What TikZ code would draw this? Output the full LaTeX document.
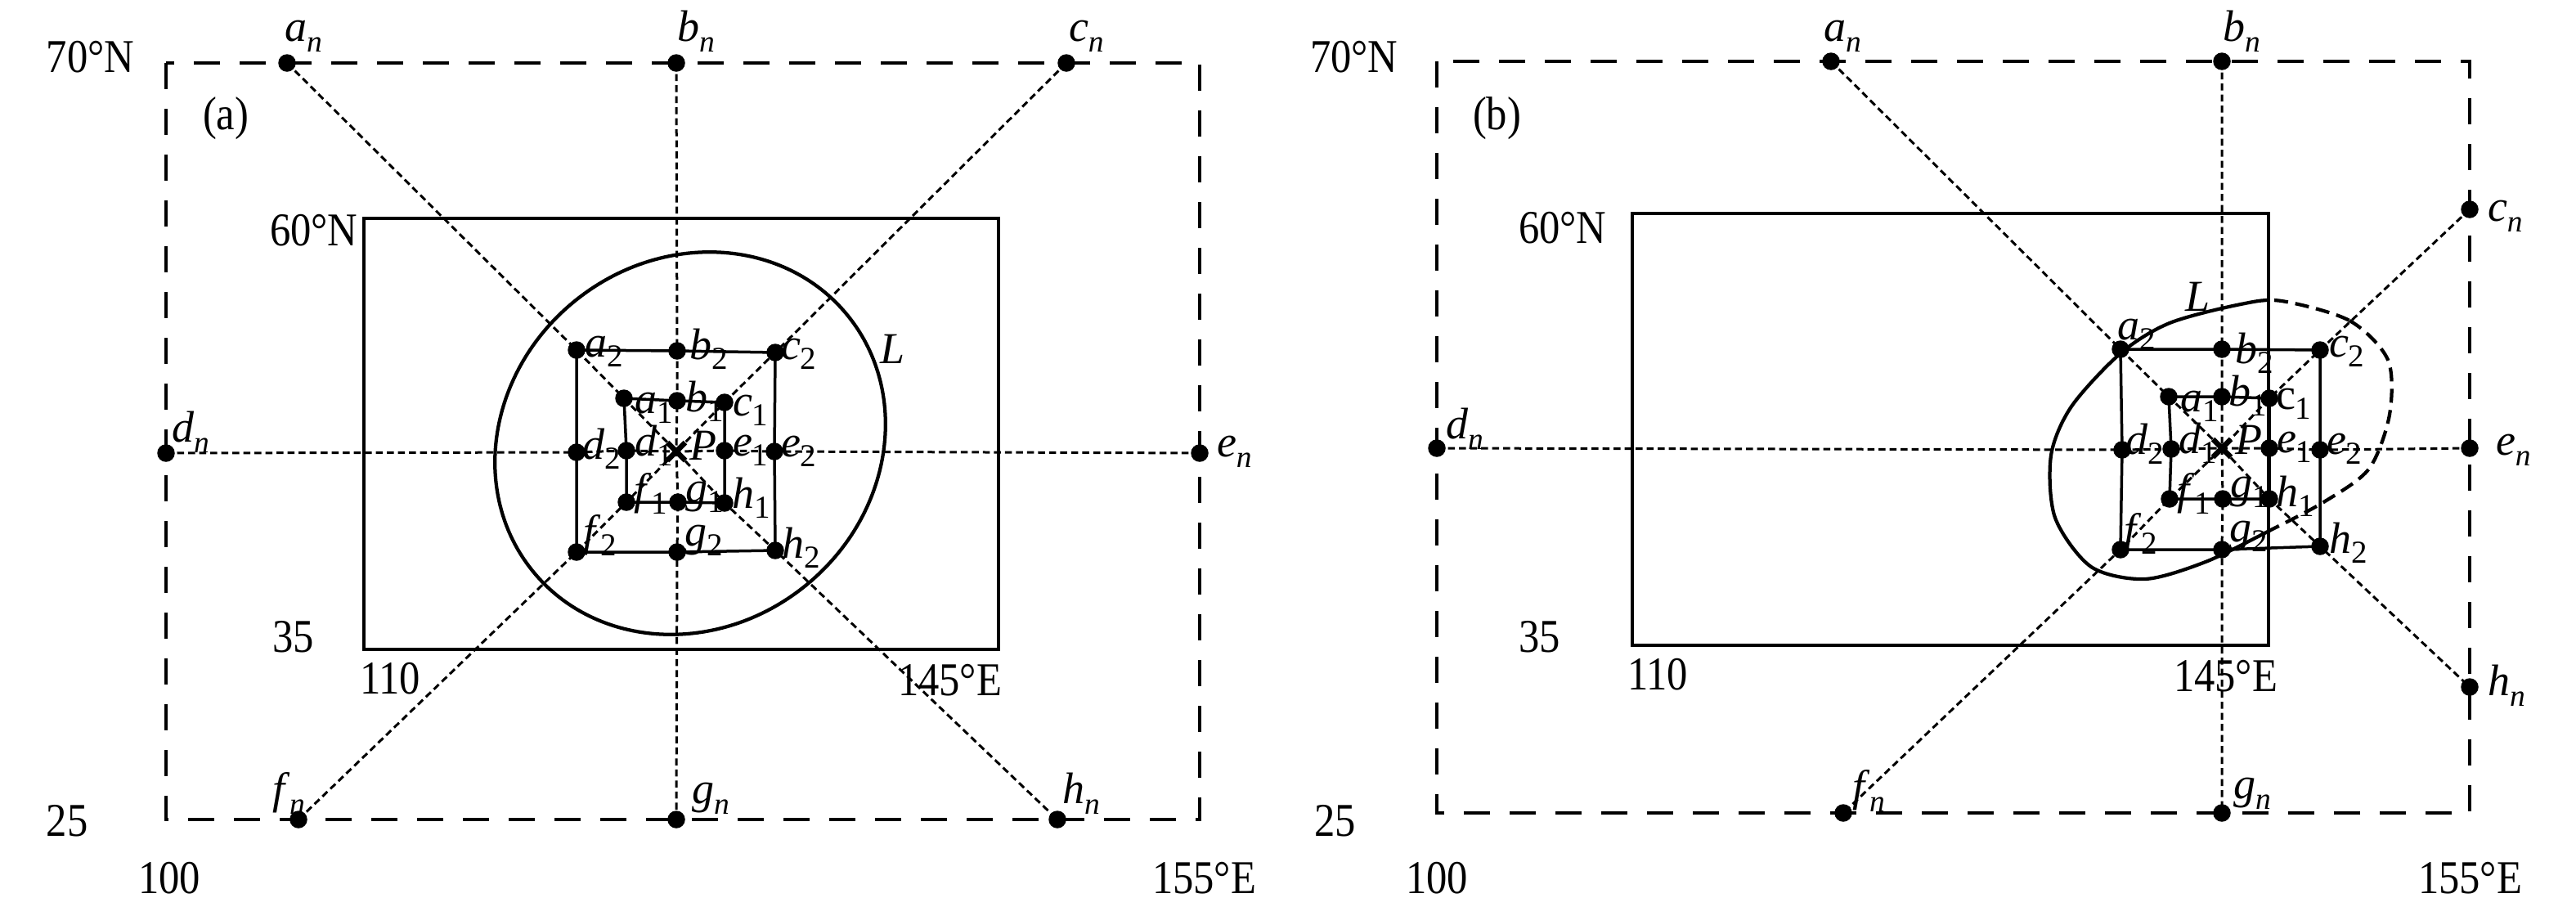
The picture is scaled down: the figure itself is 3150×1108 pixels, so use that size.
\documentclass[tikz,border=0pt]{standalone}
\usepackage{fontspec}
\setmainfont{Liberation Serif}
\newfontfamily\numfont{Liberation Serif}[FakeStretch=0.88]
\usetikzlibrary{calc,backgrounds}
\newcommand{\lb}[2]{\textit{#1}\raisebox{-2.5pt}{\fontsize{7.8}{8}\selectfont #2}}
\newcommand{\lbn}[1]{\textit{#1}\raisebox{-2.6pt}{\fontsize{7.5}{8}\selectfont\textit{n}}}
\tikzset{
 outerdash/.style={line width=0.85pt, dash pattern=on 6.4pt off 4.8pt},
 guide/.style={line width=0.6pt, dash pattern=on 1.7pt off 1pt},
 boxline/.style={line width=0.75pt},
 sqline/.style={line width=0.7pt},
 curveline/.style={line width=0.85pt},
 curvedash/.style={line width=0.85pt, dash pattern=on 3.4pt off 1.8pt},
 dot/.style={circle, fill=black, inner sep=0pt, minimum size=4.3pt},
 lbl/.style={anchor=base west, inner sep=0pt, font=\fontsize{10.8}{12}\selectfont},
 big/.style={anchor=base west, inner sep=0pt, font=\fontsize{11.5}{13}\selectfont\numfont},
 crossline/.style={line width=1.3pt},
}
\newcommand{\dotlab}[4]{%
 \node[dot] (#1) at (#2) {};
 \node[lbl] (#1t) at ($(#1.center)+(#3)$) {#4};}
\begin{document}
\begin{tikzpicture}[x=0.2pt,y=-0.2pt]
\useasboundingbox (0,0) rectangle (3150,1108);

% ================= Panel (a) =================
\dotlab{Aan}{351,77}{-4,-27}{\lbn{a}}
\dotlab{Abn}{827,77}{0,-27}{\lbn{b}}
\dotlab{Acn}{1304,77}{2,-27}{\lbn{c}}
\dotlab{Adn}{203,554}{6,-14}{\lbn{d}}
\dotlab{Aen}{1467,554}{20,4}{\lbn{e}}
\dotlab{Afn}{365,1002}{-33,-20}{\lbn{f}}
\dotlab{Agn}{827,1002}{18,-20}{\lbn{g}}
\dotlab{Ahn}{1293,1002}{5,-20}{\lbn{h}}

\dotlab{Aa2}{705,428}{9,8}{\lb{a}{2}}
\dotlab{Ab2}{828,429}{14,10}{\lb{b}{2}}
\dotlab{Ac2}{948,431}{6,8}{\lb{c}{2}}
\dotlab{Ad2}{705,553}{6,8}{\lb{d}{2}}
\dotlab{Ae2}{947,552}{7,6}{\lb{e}{2}}
\dotlab{Af2}{705,675}{7,-8}{\lb{f}{2}}
\dotlab{Ag2}{828,675}{8,-8}{\lb{g}{2}}
\dotlab{Ah2}{948,673}{7,9}{\lb{h}{2}}
\dotlab{Aa1}{763,487}{12,18}{\lb{a}{1}}
\dotlab{Ab1}{828,490}{9,13}{\lb{b}{1}}
\dotlab{Ac1}{886,492}{9,16}{\lb{c}{1}}
\dotlab{Ad1}{766,551}{9,6}{\lb{d}{1}}
\dotlab{Ae1}{886,551}{9,6}{\lb{e}{1}}
\dotlab{Af1}{766,614}{8,2}{\lb{f}{1}}
\dotlab{Ag1}{829,614}{8,0}{\lb{g}{1}}
\dotlab{Ah1}{886,615}{8,6}{\lb{h}{1}}
\coordinate (AP) at (827,552);
\node[lbl] (APt) at ($(AP)+(15,10)$) {\textit{P}};

\begin{pgfonlayer}{background}
\draw[outerdash] (203,77) rectangle (1467,1002);
\draw[boxline] (445,267) rectangle (1221,794);
\draw[guide] (Adn.center) -- (Ad2.center) -- (Ad1.center) -- (AP) -- (Ae1.center) -- (Ae2.center) -- (Aen.center);
\draw[guide] (Abn.center) -- (Ab2.center) -- (Ab1.center) -- (AP) -- (Ag1.center) -- (Ag2.center) -- (Agn.center);
\draw[guide] (Aan.center) -- (Aa2.center) -- (Aa1.center) -- (AP) -- (Ah1.center) -- (Ah2.center) -- (Ahn.center);
\draw[guide] (Acn.center) -- (Ac2.center) -- (Ac1.center) -- (AP) -- (Af1.center) -- (Af2.center) -- (Afn.center);
\draw[curveline, rotate around={39:(844,542)}] (844,542) ellipse [x radius=248, y radius=224];
\draw[sqline] (Aa2.center) -- (Ab2.center) -- (Ac2.center) -- (Ae2.center) -- (Ah2.center) -- (Ag2.center) -- (Af2.center) -- (Ad2.center) -- cycle;
\draw[sqline] (Aa1.center) -- (Ab1.center) -- (Ac1.center) -- (Ae1.center) -- (Ah1.center) -- (Ag1.center) -- (Af1.center) -- (Ad1.center) -- cycle;
\end{pgfonlayer}
\draw[crossline] ($(AP)+(-11,-11)$) -- ($(AP)+(11,11)$);
\draw[crossline] ($(AP)+(-11,11)$) -- ($(AP)+(11,-11)$);

\node[lbl] (AL) at (1075,444) {\textit{L}};
\node[big] (A70) at (56,88) {70°N};
\node[big] (Alab) at (247,158) {(a)};
\node[big] (A60) at (329,300) {60°N};
\node[big] (A35) at (332,797) {35};
\node[big] (A110) at (439,848) {110};
\node[big] (A145) at (1097,850) {145°E};
\node[big] (A25) at (56,1022) {25};
\node[big] (A100) at (168,1092) {100};
\node[big] (A155) at (1408,1092) {155°E};

% ================= Panel (b) =================
\dotlab{Ban}{2239,75}{-10,-25}{\lbn{a}}
\dotlab{Bbn}{2717,75}{0,-25}{\lbn{b}}
\dotlab{Bcn}{3020,256}{21,14}{\lbn{c}}
\dotlab{Bdn}{1757,548}{10,-12}{\lbn{d}}
\dotlab{Ben}{3020,548}{31,8}{\lbn{e}}
\dotlab{Bfn}{2254,994}{10,-15}{\lbn{f}}
\dotlab{Bgn}{2717,994}{13,-18}{\lbn{g}}
\dotlab{Bhn}{3020,840}{21,10}{\lbn{h}}

\dotlab{Ba2}{2593,427}{-5,-12}{\lb{a}{2}}
\dotlab{Bb2}{2717,427}{15,17}{\lb{b}{2}}
\dotlab{Bc2}{2837,428}{10,8}{\lb{c}{2}}
\dotlab{Bd2}{2595,550}{3,5}{\lb{d}{2}}
\dotlab{Be2}{2837,550}{7,5}{\lb{e}{2}}
\dotlab{Bf2}{2593,672}{3,-7}{\lb{f}{2}}
\dotlab{Bg2}{2717,672}{8,-10}{\lb{g}{2}}
\dotlab{Bh2}{2837,668}{10,8}{\lb{h}{2}}
\dotlab{Ba1}{2652,485}{13,18}{\lb{a}{1}}
\dotlab{Bb1}{2717,485}{7,11}{\lb{b}{1}}
\dotlab{Bc1}{2775,487}{7,13}{c\raisebox{-2.5pt}{\fontsize{7.8}{8}\selectfont 1}}
\dotlab{Bd1}{2655,549}{8,5}{\lb{d}{1}}
\dotlab{Be1}{2775,548}{8,5}{\lb{e}{1}}
\dotlab{Bf1}{2653,610}{8,6}{\lb{f}{1}}
\dotlab{Bg1}{2718,610}{8,-2}{\lb{g}{1}}
\dotlab{Bh1}{2775,610}{7,9}{\lb{h}{1}}
\coordinate (BP) at (2717,548);
\node[lbl] (BPt) at ($(BP)+(15,7)$) {\textit{P}};

\begin{pgfonlayer}{background}
\draw[outerdash] (1757,75) rectangle (3020,994);
\draw[boxline] (1996,261) rectangle (2774,789);
\draw[guide] (Bdn.center) -- (Bd2.center) -- (Bd1.center) -- (BP) -- (Be1.center) -- (Be2.center) -- (Ben.center);
\draw[guide] (Bbn.center) -- (Bb2.center) -- (Bb1.center) -- (BP) -- (Bg1.center) -- (Bg2.center) -- (Bgn.center);
\draw[guide] (Ban.center) -- (Ba2.center) -- (Ba1.center) -- (BP) -- (Bh1.center) -- (Bh2.center) -- (Bhn.center);
\draw[guide] (Bcn.center) -- (Bc2.center) -- (Bc1.center) -- (BP) -- (Bf1.center) -- (Bf2.center) -- (Bfn.center);
\begin{scope}
\clip (1700,0) rectangle (2774,1108);
\draw[curveline] plot[smooth cycle] coordinates {(2790,368) (2873,392) (2920,440) (2922,507) (2897,573) (2843,613) (2773,650) (2697,687) (2623,708) (2557,693) (2513,633) (2508,557) (2533,497) (2593,432) (2653,395) (2740,372)};
\end{scope}
\begin{scope}
\clip (2774,0) rectangle (3100,1108);
\draw[curvedash] plot[smooth cycle] coordinates {(2790,368) (2873,392) (2920,440) (2922,507) (2897,573) (2843,613) (2773,650) (2697,687) (2623,708) (2557,693) (2513,633) (2508,557) (2533,497) (2593,432) (2653,395) (2740,372)};
\end{scope}
\draw[sqline] (Ba2.center) -- (Bb2.center) -- (Bc2.center) -- (Be2.center) -- (Bh2.center) -- (Bg2.center) -- (Bf2.center) -- (Bd2.center) -- cycle;
\draw[sqline] (Ba1.center) -- (Bb1.center) -- (Bc1.center) -- (Be1.center) -- (Bh1.center) -- (Bg1.center) -- (Bf1.center) -- (Bd1.center) -- cycle;
\end{pgfonlayer}
\draw[crossline] ($(BP)+(-11,-11)$) -- ($(BP)+(11,11)$);
\draw[crossline] ($(BP)+(-11,11)$) -- ($(BP)+(11,-11)$);

\node[lbl] (BL) at (2671,380) {\textit{L}};
\node[big] (B70) at (1601,88) {70°N};
\node[big] (Blab) at (1800,158) {(b)};
\node[big] (B60) at (1856,297) {60°N};
\node[big] (B35) at (1856,797) {35};
\node[big] (B110) at (1989,843) {110};
\node[big] (B145) at (2657,845) {145°E};
\node[big] (B25) at (1606,1022) {25};
\node[big] (B100) at (1718,1092) {100};
\node[big] (B155) at (2956,1092) {155°E};
\end{tikzpicture}
\end{document}
